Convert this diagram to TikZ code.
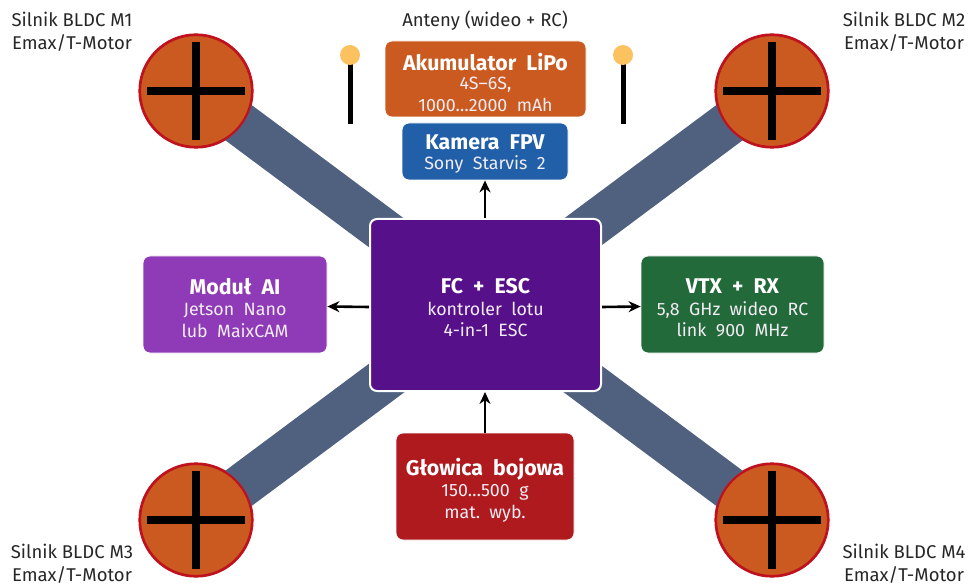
\documentclass[tikz,border=0pt]{standalone}
\usepackage{fontspec}
\setmainfont{Fira Sans}
\usetikzlibrary{arrows.meta}
\definecolor{motorfill}{HTML}{CB5A20}
\definecolor{motorring}{HTML}{C0111E}
\definecolor{armcol}{HTML}{4F617F}
\definecolor{fccol}{HTML}{56118A}
\definecolor{aicol}{HTML}{8F3BB8}
\definecolor{vtxcol}{HTML}{236A3A}
\definecolor{camcol}{HTML}{2160A8}
\definecolor{batcol}{HTML}{CB5A20}
\definecolor{wcol}{HTML}{AE1A1E}
\definecolor{ballcol}{HTML}{FDC260}
\definecolor{subtxt}{HTML}{F2ECF4}
\tikzset{
  arm/.style={line width=44pt, draw=armcol},
  motor/.style={circle, fill=motorfill, draw=motorring, line width=2.2pt, minimum size=113pt, inner sep=0pt},
  crossline/.style={line width=8pt, draw=black},
  box/.style={rounded corners=7pt, draw=white, line width=0.8pt, inner sep=0pt},
  boxtext/.style={text=white, align=center, inner sep=0pt, font=\fontsize{17.8}{21.5}\selectfont},
  lbl/.style={align=center, font=\fontsize{18.5}{23}\selectfont, text=black!85},
  conn/.style={-{Stealth[length=12pt,width=11pt]}, line width=2.6pt, draw=black},
  stick/.style={line width=5pt, draw=black},
}
\newcommand{\ttl}[1]{{\fontsize{21.3}{23}\selectfont\bfseries #1}}
\begin{document}
\begin{tikzpicture}[x=1pt,y=-1pt]
\useasboundingbox (0,0) rectangle (974,585);
% motors
\node[motor] (m1) at (196,91) {};
\node[motor] (m2) at (772,91) {};
\node[motor] (m3) at (196,520) {};
\node[motor] (m4) at (772,520) {};
% arms
\draw[arm] (m1.center) -- (m4.center);
\draw[arm] (m2.center) -- (m3.center);
% redraw motors on top
\foreach \m in {m1,m2,m3,m4}{
  \fill[motorfill] (\m.center) circle (56pt);
  \draw[motorring, line width=2.2pt] (\m.center) circle (56pt);
  \draw[crossline] ([yshift=-49pt]\m.center) -- ([yshift=49pt]\m.center);
  \draw[crossline] ([xshift=-49pt]\m.center) -- ([xshift=49pt]\m.center);
}
% motor labels
\node[lbl] (l1) at (72,32) {Silnik BLDC M1\\Emax/T-Motor};
\node[lbl] (l2) at (904,32) {Silnik BLDC M2\\Emax/T-Motor};
\node[lbl] (l3) at (72,564) {Silnik BLDC M3\\Emax/T-Motor};
\node[lbl] (l4) at (904,564) {Silnik BLDC M4\\Emax/T-Motor};
% central FC
\node[box, fill=fccol, line width=2pt, minimum width=231pt, minimum height=172pt] (fc) at (485.5,305) {};
\node[boxtext] (fct) at (485.5,308) {\ttl{FC\ \ +\ \ ESC}\\[0pt]\color{subtxt}kontroler\ \ lotu\\\color{subtxt}4-in-1\ \ ESC};
% AI module
\node[box, fill=aicol, minimum width=184pt, minimum height=97pt] (ai) at (235,304.5) {};
\node[boxtext] (ait) at (235,308) {\ttl{Moduł\ \ AI}\\[0pt]\color{subtxt}Jetson\ \ Nano\\\color{subtxt}lub\ \ MaixCAM};
% VTX
\node[box, fill=vtxcol, minimum width=183pt, minimum height=97pt] (vtx) at (732.5,304.5) {};
\node[boxtext] (vtxt) at (732.5,308) {\ttl{VTX\ \ +\ \ RX}\\[0pt]\color{subtxt}5,8\ \ GHz\ \ wideo\ \ RC\\\color{subtxt}link\ \ 900\ \ MHz};
% camera
\node[box, fill=camcol, minimum width=166pt, minimum height=57pt] (cam) at (485,151.5) {};
\node[boxtext] (camt) at (485,154) {\ttl{Kamera\ \ FPV}\\[-1pt]\color{subtxt}Sony\ \ Starvis\ \ 2};
% battery
\node[box, fill=batcol, minimum width=201pt, minimum height=76pt] (bat) at (485.5,79) {};
\node[boxtext] (batt) at (485.5,82) {\ttl{Akumulator\ \ LiPo}\\[-2pt]\color{subtxt}4S–6S,\\\color{subtxt}1000…2000\ \ mAh};
% warhead
\node[box, fill=wcol, minimum width=178pt, minimum height=107pt] (wh) at (485,486.5) {};
\node[boxtext] (wht) at (485,490) {\ttl{Głowica\ \ bojowa}\\[0pt]\color{subtxt}150…500\ \ g\\\color{subtxt}mat.\ \ wyb.};
% antennas
\node[lbl] (ant) at (485,21) {Anteny (wideo + RC)};
\coordinate (a1) at (350,55);
\coordinate (a1b) at (350,124);
\coordinate (a2) at (623,55);
\coordinate (a2b) at (623,124);
\draw[stick] (a1) -- (a1b);
\draw[stick] (a2) -- (a2b);
\fill[ballcol] (a1) circle (10pt);
\fill[ballcol] (a2) circle (10pt);
% connectors
\draw[conn] (fc.north -| cam.south) -- (cam.south);
\draw[conn] ([yshift=-2pt]fc.west) -- ([yshift=-2pt]ai.east);
\draw[conn] ([yshift=-2pt]fc.east) -- ([yshift=-2pt]vtx.west);
\draw[conn] (wh.north) -- (wh.north |- fc.south);
\end{tikzpicture}
\end{document}
